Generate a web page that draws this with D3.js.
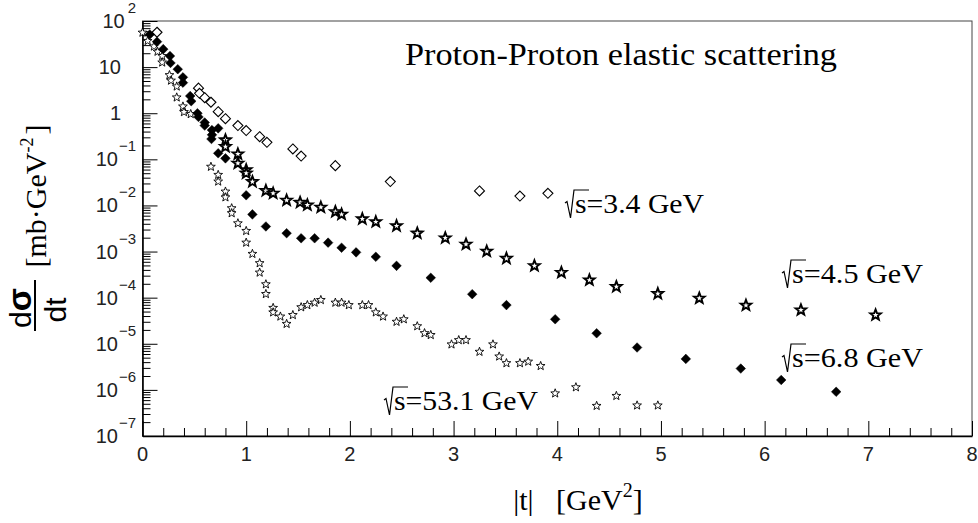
<!DOCTYPE html>
<html>
<head>
<meta charset="utf-8">
<script src="https://cdn.jsdelivr.net/npm/d3@7/dist/d3.min.js"></script>
<style>
	body { margin: 0; background: #fff; }
	svg { display: block; }
	.tick text { display: none; }
</style>
</head>
<body>
<div id="chart"></div>
<script>
// sqrt(s) = 3.4 GeV, open diamonds
var t34 = [0.14,0.54,0.55,0.60,0.66,0.73,0.80,0.92,1.00,1.13,1.20,1.45,1.53,1.86,2.39,3.25,3.64,3.91];
var ds34 = [57,3.5,2.7,2.17,1.73,1.08,0.76,0.54,0.42,0.31,0.234,0.168,0.118,0.073,0.033,0.0206,0.016,0.0183];

// sqrt(s) = 4.5 GeV, bold stars
var t45 = [0.80,0.80,0.92,0.92,1.00,1.00,1.06,1.19,1.26,1.39,1.52,1.59,1.72,1.86,1.92,2.12,2.25,2.45,2.65,2.92,3.12,3.32,3.51,3.78,4.04,4.31,4.57,4.97,5.37,5.82,6.35,7.07];
var ds45 = [0.263,0.188,0.13,0.082,0.059,0.050,0.0327,0.0209,0.0183,0.0129,0.0116,0.0102,0.0091,0.0073,0.0064,0.0051,0.0044,0.0036,0.0025,0.00197,0.00144,0.00101,7.1e-4,4.9e-4,3.5e-4,2.4e-4,1.73e-4,1.22e-4,9.7e-5,6.8e-5,5.4e-5,4.2e-5];

// sqrt(s) = 6.8 GeV, filled diamonds
var t68 = [0.07,0.14,0.20,0.265,0.27,0.34,0.39,0.39,0.46,0.47,0.53,0.54,0.60,0.60,0.67,0.67,0.665,0.73,0.73,0.80,1.00,1.06,1.19,1.39,1.53,1.66,1.79,1.92,2.06,2.25,2.45,2.78,3.18,3.51,3.98,4.38,4.77,5.24,5.77,6.16,6.69];
var ds68 = [51,35.6,24.5,17.4,12.3,9.0,6.0,4.6,2.36,1.82,1.0,0.83,0.63,0.54,0.43,0.34,0.276,0.47,0.135,0.105,0.0166,0.0064,0.0035,0.0025,0.00194,0.00194,0.00156,0.00121,9.6e-4,7.7e-4,4.9e-4,2.7e-4,1.19e-4,6.9e-5,3.4e-5,1.69e-5,8.3e-6,4.7e-6,2.9e-6,1.64e-6,9.1e-7];

// sqrt(s) = 53.1 GeV, small open stars
var t531 = [0.00,0.05,0.11,0.145,0.19,0.19,0.26,0.275,0.33,0.33,0.39,0.40,0.465,0.66,0.73,0.73,0.80,0.80,0.86,0.86,0.92,1.00,1.00,1.06,1.13,1.13,1.19,1.19,1.26,1.26,1.33,1.39,1.45,1.53,1.59,1.66,1.72,1.86,1.92,1.99,2.12,2.18,2.25,2.32,2.45,2.52,2.65,2.72,2.78,2.98,3.05,3.12,3.25,3.38,3.44,3.51,3.64,3.72,3.84,3.98,4.18,4.38,4.57,4.77,4.97];
var ds531 = [56,37,28,21.6,17.4,12.6,6.7,5.1,3.8,2.2,1.4,1.06,0.96,0.069,0.046,0.033,0.020,0.015,0.0087,0.0068,0.0041,0.0028,0.00156,8.9e-4,5.6e-4,3.5e-4,1.95e-4,1.2e-4,6.0e-5,4.8e-5,3.9e-5,2.7e-5,4.2e-5,6.2e-5,6.9e-5,7.8e-5,8.9e-5,7.8e-5,7.8e-5,6.9e-5,6.9e-5,6.9e-5,4.8e-5,3.9e-5,3.0e-5,3.4e-5,2.4e-5,1.7e-5,1.55e-5,9.7e-6,1.2e-5,1.2e-5,6.7e-6,9.7e-6,5.3e-6,3.8e-6,3.8e-6,4.1e-6,3.3e-6,8.4e-7,1.14e-6,4.5e-7,7.4e-7,4.6e-7,4.6e-7];

var xTicks = [0,1,2,3,4,5,6,7,8];
var yDecades = [2,1,0,-1,-2,-3,-4,-5,-6,-7];
var labels = ["3.4", "4.5", "6.8", "53.1"];

var width = 978, height = 523,
	margin = {top: 21, right: 6, bottom: 87, left: 142.5};

var x = d3.scaleLinear().domain([0, 8]).range([margin.left, width - margin.right]),
	y = d3.scaleLog().domain([1e-7, 1e2]).range([height - margin.bottom, margin.top]);

var svg = d3.select("#chart").append("svg")
	.attr("width", width)
	.attr("height", height);

// frame
svg.append("rect")
	.attr("x", x(0)).attr("y", y(1e2))
	.attr("width", x(8) - x(0)).attr("height", y(1e-7) - y(1e2))
	.attr("fill", "none").attr("stroke", "#444").attr("stroke-width", 1);

// minor ticks
var xMinor = d3.range(0, 8.01, 0.2).filter(function(d) { return Math.abs(d - Math.round(d)) > 0.01; });
svg.append("g")
	.attr("transform", "translate(0," + y(1e-7) + ")")
	.call(d3.axisBottom(x).tickValues(xMinor).tickSizeInner(-8).tickSizeOuter(0).tickFormat(""))
	.call(function(g) { g.select(".domain").remove(); });

var yMinor = [];
yDecades.slice(1).forEach(function(e) {
	for (var k = 2; k <= 9; k++) yMinor.push(k * Math.pow(10, e));
});
svg.append("g")
	.attr("transform", "translate(" + x(0) + ",0)")
	.call(d3.axisLeft(y).tickValues(yMinor).tickSizeInner(-8).tickSizeOuter(0).tickFormat(""))
	.call(function(g) { g.select(".domain").remove(); });

// major ticks and axis lines
svg.append("g")
	.attr("transform", "translate(0," + y(1e-7) + ")")
	.call(d3.axisBottom(x).tickValues(xTicks).tickSizeInner(-15).tickSizeOuter(0).tickFormat(""))
	.call(function(g) { g.select(".domain").attr("stroke-width", 1.6); });

svg.append("g")
	.attr("transform", "translate(" + x(0) + ",0)")
	.call(d3.axisLeft(y).tickValues(yDecades.map(function(e) { return Math.pow(10, e); }))
		.tickSizeInner(-15).tickSizeOuter(0).tickFormat(""))
	.call(function(g) { g.select(".domain").attr("stroke-width", 1.6); });

svg.selectAll(".tick line").attr("stroke", "#000");

// tick labels
svg.append("g").selectAll("text")
	.data(xTicks)
  .enter().append("text")
	.attr("x", function(d) { return x(d); })
	.attr("y", 461)
	.attr("text-anchor", "middle")
	.style("font-family", "'Liberation Sans', Arial, sans-serif")
	.style("font-size", "20px")
	.attr("fill", "#222")
	.text(function(d) { return d; });

var yl = svg.append("g")
	.style("font-family", "'Liberation Sans', Arial, sans-serif")
	.attr("fill", "#222");
yDecades.forEach(function(e) {
	var py = y(Math.pow(10, e)) + 7;
	if (e === 0 || e === 1) {
		yl.append("text").attr("x", 121).attr("y", py)
			.attr("text-anchor", "end").style("font-size", "20px")
			.text(e === 0 ? "1" : "10");
	} else {
		var t = yl.append("text").attr("x", 136).attr("y", py)
			.attr("text-anchor", "end").style("font-size", "20px");
		t.append("tspan").text("10");
		t.append("tspan").attr("dy", -15).attr("dx", e > 0 ? 3 : 1).style("font-size", "15px")
			.text(e > 0 ? String(e) : "\u2212" + (-e));
	}
});

// markers
function diamond(r) {
	return "M0," + (-r) + "L" + r + ",0L0," + r + "L" + (-r) + ",0Z";
}
function star(R) {
	var p = [], r = R * 0.42;
	for (var i = 0; i < 10; i++) {
		var a = -Math.PI / 2 + i * Math.PI / 5, rr = i % 2 ? r : R;
		p.push([rr * Math.cos(a), rr * Math.sin(a)]);
	}
	return "M" + p.join("L") + "Z";
}

function drawSeries(ts, vs, d, fill, stroke, sw) {
	svg.append("g").selectAll("path")
		.data(ts.map(function(t, i) { return [t, vs[i]]; }))
	  .enter().append("path")
		.attr("transform", function(p) { return "translate(" + x(p[0]) + "," + y(p[1]) + ")"; })
		.attr("d", d)
		.attr("fill", fill)
		.attr("stroke", stroke)
		.attr("stroke-width", sw)
		.attr("stroke-linejoin", "miter");
}

drawSeries(t531, ds531, star(4.6), "#fff", "#000", 0.9);
drawSeries(t34, ds34, diamond(5), "#fff", "#000", 1.1);
drawSeries(t68, ds68, diamond(4.8), "#000", "#000", 0.5);
drawSeries(t45, ds45, star(5.6), "#fff", "#000", 1.9);

// title
svg.append("text")
	.attr("x", 405).attr("y", 65)
	.attr("textLength", 432).attr("lengthAdjust", "spacingAndGlyphs")
	.style("font-family", "'Liberation Serif', 'Times New Roman', serif")
	.style("font-size", "31px")
	.text("Proton-Proton elastic scattering");

// sqrt(s) labels
var labelPos = [[575, 213, 129], [792, 283, 131], [792, 367, 131], [394, 410, 144]];
labelPos.forEach(function(p, i) {
	var g = svg.append("g");
	g.append("path")
		.attr("d", "M" + (p[0] - 10) + "," + (p[1] - 10) + "L" + (p[0] - 8) + "," + (p[1] - 11.5) +
			"L" + (p[0] - 4.5) + "," + (p[1] + 5) + "L" + (p[0] - 1) + "," + (p[1] - 23) +
			"L" + (p[0] + 14) + "," + (p[1] - 23))
		.attr("fill", "none").attr("stroke", "#000").attr("stroke-width", 1.2);
	g.append("text")
		.attr("x", p[0]).attr("y", p[1])
		.attr("textLength", p[2]).attr("lengthAdjust", "spacingAndGlyphs")
		.style("font-family", "'Liberation Serif', 'Times New Roman', serif")
		.style("font-size", "28px")
		.text("s=" + labels[i] + " GeV");
});

// x axis title
var xt = svg.append("text")
	.attr("x", 578).attr("y", 510)
	.attr("text-anchor", "middle")
	.style("white-space", "pre")
	.style("font-family", "'Liberation Serif', 'Times New Roman', serif")
	.style("font-size", "30px");
xt.append("tspan").text("|t|   [GeV");
xt.append("tspan").attr("dy", -13).style("font-size", "20px").text("2");
xt.append("tspan").attr("dy", 13).text("]");

// y axis title
var yt = svg.append("g").attr("transform", "rotate(-90)");
yt.append("text")
	.attr("x", -308).attr("y", 31)
	.attr("text-anchor", "middle")
	.style("font-family", "'Liberation Sans', Arial, sans-serif")
	.style("font-size", "30px")
	.html('<tspan>d</tspan><tspan font-size="34" font-weight="bold">\u03c3</tspan>');
yt.append("line")
	.attr("x1", -331).attr("x2", -280)
	.attr("y1", 35).attr("y2", 35)
	.attr("stroke", "#000").attr("stroke-width", 2);
yt.append("text")
	.attr("x", -310).attr("y", 66)
	.attr("text-anchor", "middle")
	.style("font-family", "'Liberation Sans', Arial, sans-serif")
	.style("font-size", "30px")
	.text("dt");
var unit = yt.append("text")
	.attr("x", -196).attr("y", 46)
	.attr("text-anchor", "middle")
	.style("font-family", "'Liberation Serif', 'Times New Roman', serif")
	.style("font-size", "30px");
unit.append("tspan").text("[mb\u00b7GeV");
unit.append("tspan").attr("dy", -13).style("font-size", "18px").text("-2");
unit.append("tspan").attr("dy", 13).attr("dx", 3).text("]");
</script>
</body>
</html>
